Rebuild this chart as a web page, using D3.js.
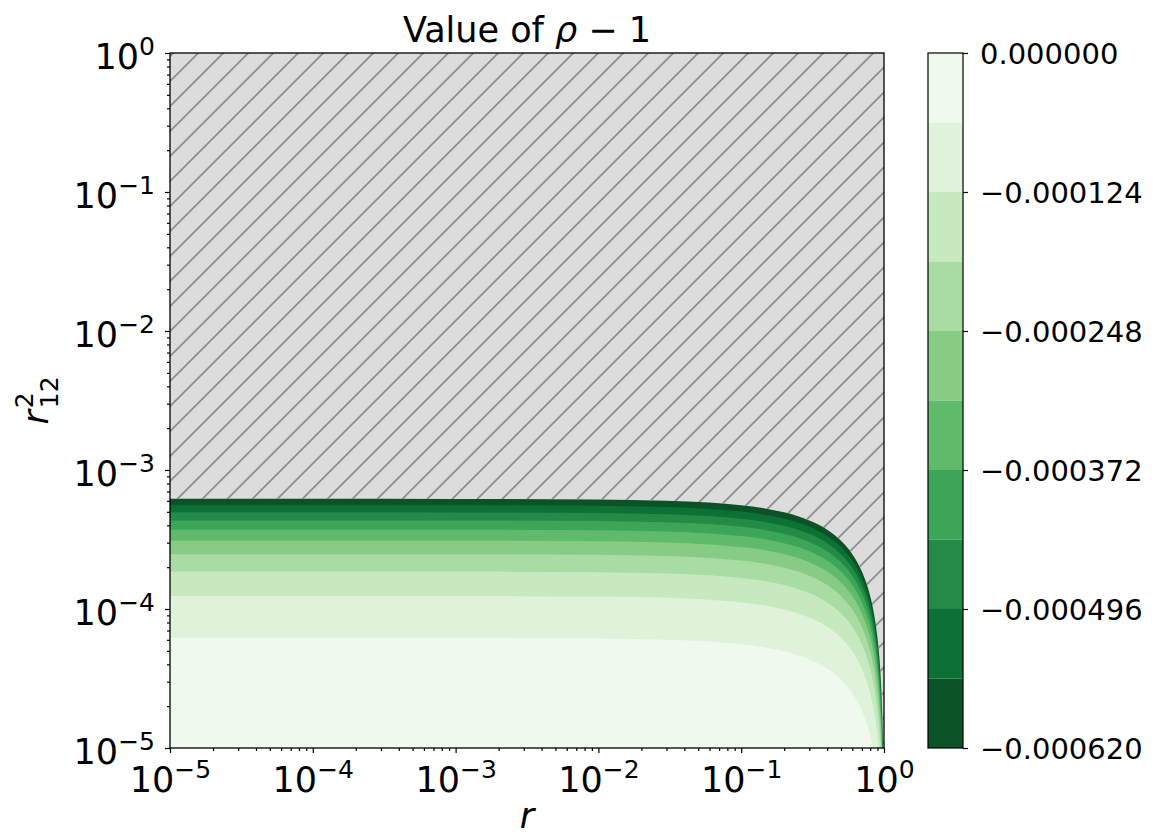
<!DOCTYPE html>
<html>
<head>
<meta charset="utf-8">
<script src="https://cdn.jsdelivr.net/npm/d3@7"></script>
<style>
  body { margin: 0; background: #fff; }
  svg { display: block; font-family: "DejaVu Sans", sans-serif; }
</style>
</head>
<body>
<div class="chart"></div>
<script>
// boundaries of the filled bands of rho - 1
const levels = [0, -0.000062, -0.000124, -0.000186, -0.000248, -0.00031,
  -0.000372, -0.000434, -0.000496, -0.000558, -0.00062];
// one colour per band, from the band next to 0 down to the darkest
const bandColors = ["#f0f9ed", "#dff3da", "#c7e9c0", "#a9dca2", "#86cc85",
  "#60ba6c", "#3ba558", "#238b45", "#0b7134", "#0b5327"];
const colorbarTicks = [0, -0.000124, -0.000248, -0.000372, -0.000496, -0.00062];

// shape of the level curves: r12^2 divided by |level|, along r
const profileR = [1e-5, 1e-4, 1e-3, 0.01, 0.03, 0.06, 0.1, 0.15, 0.2, 0.25,
  0.3, 0.35, 0.4, 0.45, 0.5, 0.55, 0.6, 0.65, 0.7, 0.75, 0.8, 0.85, 0.9,
  0.93, 0.95, 0.97, 0.98, 0.99, 0.995, 0.998, 0.9995, 0.99999];
const profileScale = [1, 1, 0.999, 0.99, 0.97, 0.94, 0.9, 0.85, 0.8, 0.75,
  0.7, 0.65, 0.6, 0.55, 0.5, 0.45, 0.4, 0.35, 0.3, 0.25, 0.2, 0.15, 0.1,
  0.07, 0.05, 0.03, 0.02, 0.01, 0.005, 0.002, 0.0005, 0.00001];

const tickExponents = [-5, -4, -3, -2, -1, 0];

const w = 1161;
const h = 839;
const plot = { left: 170, right: 884, top: 53, bottom: 748 };
const cbar = { left: 928, right: 963 };

const svg = d3
  .select(".chart")
  .append("svg")
  .attr("width", w)
  .attr("height", h);

const xScale = d3.scaleLog().domain([1e-5, 1]).range([plot.left, plot.right]);
const yScale = d3.scaleLog().domain([1e-5, 1]).range([plot.bottom, plot.top]);

const defs = svg.append("defs");
defs
  .append("clipPath")
  .attr("id", "plot-clip")
  .append("rect")
  .attr("x", plot.left)
  .attr("y", plot.top)
  .attr("width", plot.right - plot.left)
  .attr("height", plot.bottom - plot.top);

const hatch = defs
  .append("pattern")
  .attr("id", "hatch")
  .attr("patternUnits", "userSpaceOnUse")
  .attr("x", 1.3)
  .attr("y", 0)
  .attr("width", 25)
  .attr("height", 25);
hatch
  .append("path")
  .attr("d", "M-5,30 L30,-5 M-5,5 L5,-5 M20,30 L30,20")
  .attr("stroke", "#7a7a7a")
  .attr("stroke-width", 1.5);

// filled contours, painted from the lightest band upwards
const plotArea = svg.append("g").attr("clip-path", "url(#plot-clip)");

plotArea
  .append("rect")
  .attr("x", plot.left)
  .attr("y", plot.top)
  .attr("width", plot.right - plot.left)
  .attr("height", plot.bottom - plot.top)
  .attr("fill", bandColors[0]);

function levelCurve(level) {
  return profileR.map((r, i) => ({ r: r, s: Math.abs(level) * profileScale[i] }));
}

const above = d3
  .area()
  .x((d) => xScale(d.r))
  .y0(plot.top)
  .y1((d) => yScale(d.s))
  .curve(d3.curveMonotoneX);

for (let k = 1; k < bandColors.length; k++) {
  plotArea
    .append("path")
    .attr("d", above(levelCurve(levels[k])))
    .attr("fill", bandColors[k]);
}

// outside the last level: grey, hatched
const outside = above(levelCurve(levels[levels.length - 1]));
plotArea.append("path").attr("d", outside).attr("fill", "#dcdcdc");
plotArea.append("path").attr("d", outside).attr("fill", "url(#hatch)");

svg
  .append("rect")
  .attr("x", plot.left)
  .attr("y", plot.top)
  .attr("width", plot.right - plot.left)
  .attr("height", plot.bottom - plot.top)
  .attr("fill", "none")
  .attr("stroke", "#000")
  .attr("stroke-width", 1.3);

// axes
const majorTicks = tickExponents.map((e) => Math.pow(10, e));
const minorTicks = [];
tickExponents.slice(0, -1).forEach((e) => {
  for (let m = 2; m <= 9; m++) minorTicks.push(m * Math.pow(10, e));
});

function powerLabel(text, d) {
  const e = Math.round(Math.log10(d));
  text.text(null);
  text.append("tspan").text("10");
  text
    .append("tspan")
    .attr("dy", -14)
    .attr("font-size", 25)
    .text(e < 0 ? "\u2212" + -e : String(e));
}

const xAxisG = svg
  .append("g")
  .attr("transform", "translate(0," + plot.bottom + ")")
  .call(d3.axisBottom(xScale).tickValues(majorTicks).tickSize(5).tickFormat(""));
svg
  .append("g")
  .attr("transform", "translate(0," + plot.bottom + ")")
  .call(d3.axisBottom(xScale).tickValues(minorTicks).tickSize(3).tickFormat(""))
  .select(".domain")
  .remove();

const yAxisG = svg
  .append("g")
  .attr("transform", "translate(" + plot.left + ",0)")
  .call(d3.axisLeft(yScale).tickValues(majorTicks).tickSize(5).tickFormat(""));
svg
  .append("g")
  .attr("transform", "translate(" + plot.left + ",0)")
  .call(d3.axisLeft(yScale).tickValues(minorTicks).tickSize(3).tickFormat(""))
  .select(".domain")
  .remove();

xAxisG.select(".domain").remove();
yAxisG.select(".domain").remove();
svg.selectAll(".tick line").attr("stroke-width", 1.2);

xAxisG
  .selectAll(".tick text")
  .attr("dy", null)
  .attr("y", 44)
  .attr("text-anchor", "middle")
  .style("font-size", "35px")
  .style("font-family", "DejaVu Sans")
  .attr("fill", "#000")
  .each(function (d) {
    powerLabel(d3.select(this), d);
  });

yAxisG
  .selectAll(".tick text")
  .attr("x", -15)
  .attr("dy", null)
  .attr("y", 15)
  .attr("text-anchor", "end")
  .style("font-size", "35px")
  .style("font-family", "DejaVu Sans")
  .attr("fill", "#000")
  .each(function (d) {
    powerLabel(d3.select(this), d);
  });

// colorbar
const cScale = d3
  .scaleLinear()
  .domain([levels[levels.length - 1], 0])
  .range([plot.bottom, plot.top]);

svg
  .append("g")
  .selectAll("rect")
  .data(bandColors)
  .enter()
  .append("rect")
  .attr("x", cbar.left)
  .attr("y", (d, i) => cScale(levels[i]))
  .attr("width", cbar.right - cbar.left)
  .attr("height", (d, i) => cScale(levels[i + 1]) - cScale(levels[i]))
  .attr("fill", (d) => d);

svg
  .append("rect")
  .attr("x", cbar.left)
  .attr("y", plot.top)
  .attr("width", cbar.right - cbar.left)
  .attr("height", plot.bottom - plot.top)
  .attr("fill", "none")
  .attr("stroke", "#000")
  .attr("stroke-width", 1.2);

const cAxisG = svg
  .append("g")
  .attr("transform", "translate(" + cbar.right + ",0)")
  .call(
    d3
      .axisRight(cScale)
      .tickValues(colorbarTicks)
      .tickSize(5)
      .tickPadding(12)
      .tickFormat((d) => (d < 0 ? "\u2212" : "") + Math.abs(d).toFixed(6))
  );
cAxisG.select(".domain").remove();
cAxisG.selectAll(".tick line").attr("stroke-width", 1.2);
cAxisG
  .selectAll(".tick text")
  .attr("dy", "0.36em")
  .style("font-size", "29px")
  .style("font-family", "DejaVu Sans")
  .attr("fill", "#000");

// title and axis labels
const title = svg
  .append("text")
  .attr("x", (plot.left + plot.right) / 2)
  .attr("y", 42)
  .attr("text-anchor", "middle")
  .style("font-size", "35px");
title.append("tspan").text("Value of ");
title.append("tspan").style("font-style", "italic").text("\u03c1");
title.append("tspan").text(" \u2212 1");

svg
  .append("text")
  .attr("x", (plot.left + plot.right) / 2)
  .attr("y", 828)
  .attr("text-anchor", "middle")
  .style("font-size", "35px")
  .style("font-style", "italic")
  .text("r");

const yLabel = svg
  .append("text")
  .attr("transform", "translate(48," + (plot.top + plot.bottom) / 2 + ") rotate(-90)")
  .attr("text-anchor", "middle")
  .style("font-size", "35px");
yLabel.append("tspan").style("font-style", "italic").text("r");
yLabel.append("tspan").attr("dx", 2).attr("dy", -15).style("font-size", "25px").text("2");
yLabel.append("tspan").attr("dx", -16).attr("dy", 25).style("font-size", "25px").text("12");
</script>
</body>
</html>
